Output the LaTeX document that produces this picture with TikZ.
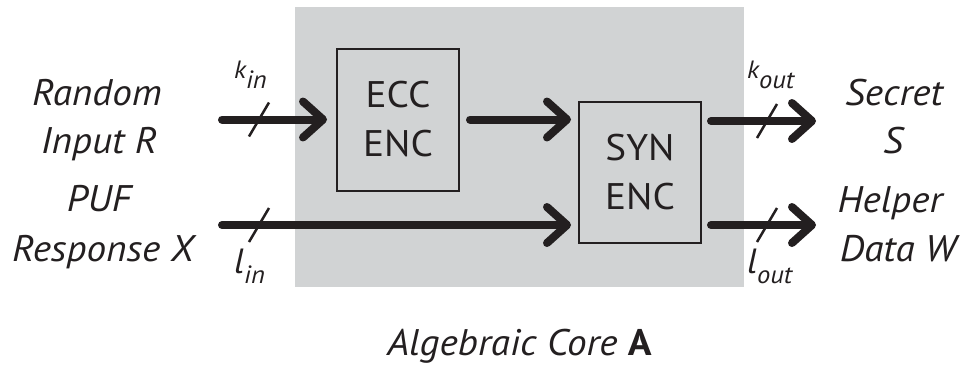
\documentclass[tikz,border=0pt]{standalone}
\usepackage{fontspec}
\setmainfont{PT Sans}[FakeStretch=1.06]
\usetikzlibrary{arrows.meta,calc}
\definecolor{ink}{RGB}{35,31,32}
\definecolor{coregray}{RGB}{209,211,212}
\begin{document}
\begin{tikzpicture}[x=1pt,y=-1pt,
  flow/.style={draw=ink, line width=8pt, line cap=round,
    -{Straight Barb[length=20pt,width=36pt,round]}},
  block/.style={draw=ink, line width=2pt, minimum width=122pt, minimum height=142pt,
    inner sep=0pt, align=center, text=ink, font=\fontsize{37}{49}\selectfont},
  label/.style={anchor=base, inner sep=0pt, text=ink, font=\fontsize{37}{37}\selectfont\itshape},
  buslabel/.style={anchor=base west, inner sep=0pt, text=ink, font=\fontsize{25}{25}\selectfont\itshape},
  busslash/.style={draw=ink, line width=2.5pt},
]
\useasboundingbox (0,0) rectangle (962,365);

% shaded algebraic core
\node[fill=coregray, minimum width=449pt, minimum height=280pt, inner sep=0pt,
      anchor=north west] (core) at (295,7) {};

% encoder blocks
\node[block] (ecc) at (398,119.5) {ECC\\ENC};
\node[block, minimum height=141pt] (syn) at (640,172.5) {SYN\\ENC};

% free ends of the connectors
\coordinate (rin)  at (222,119.5);
\coordinate (xin)  at (222,225);
\coordinate (sout) at (816,121);
\coordinate (wout) at (816,225);

% data flow
\draw[flow, shorten >=9pt] (rin) -- (rin -| ecc.west);
\draw[flow, shorten <=10pt, shorten >=7pt] (ecc.east) -- (ecc.east -| syn.west);
\draw[flow, shorten >=7pt] (xin) -- (xin -| syn.west);
\draw[flow, shorten <=9pt] (syn.east |- sout) -- (sout);
\draw[flow, shorten <=9pt] (syn.east |- wout) -- (wout);

% bus width marks
\coordinate (s1) at (259,119.5);
\coordinate (s2) at (259,225);
\coordinate (s3) at (767,121);
\coordinate (s4) at (767,225);
\foreach \s in {s1,s2,s3,s4}
  \draw[busslash] ($(\s)+(-10,17)$) -- ($(\s)+(10,-17)$);

% bus widths
\node[buslabel] (kin)  at (234,78) {k\raisebox{-10pt}{in}};
\node[buslabel] (kout) at (747,78) {k\raisebox{-10pt}{out}};
\node[buslabel, font=\fontsize{35}{35}\selectfont\itshape] (lin)  at (234,273)
  {l\raisebox{-10pt}{\fontsize{25}{25}\selectfont in}};
\node[buslabel, font=\fontsize{35}{35}\selectfont\itshape] (lout) at (747,273)
  {l\raisebox{-10pt}{\fontsize{25}{25}\selectfont out}};

% inputs
\node[label] (random)   at (97,105)  {Random};
\node[label] (inputr)   at (99,153)  {Input R};
\node[label] (puf)      at (99,211)  {PUF};
\node[label] (response) at (103,261) {Response X};

% outputs
\node[label] (secret) at (894,105) {Secret};
\node[label] (s)      at (893,153) {S};
\node[label] (helper) at (890,212) {Helper};
\node[label] (dataw)  at (898,261) {Data W};

% caption
\node[label] (title) at (519.5,355) {Algebraic Core \textbf{\upshape A}};
\end{tikzpicture}
\end{document}
